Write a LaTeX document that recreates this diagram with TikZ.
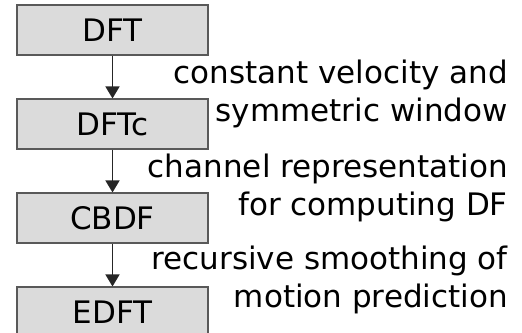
\documentclass[tikz,border=0pt]{standalone}
\usepackage{fontspec}
\setmainfont{DejaVu Sans}
\usetikzlibrary{arrows.meta}
\begin{document}
\begin{tikzpicture}[x=1pt,y=1pt,
  stagebox/.style={draw=black!65, fill=black!14, line width=1.1pt, minimum width=191pt, minimum height=50pt, inner sep=0pt, font=\fontsize{31}{37}\selectfont},
  steplabel/.style={anchor=east, align=right, inner sep=0pt, font=\fontsize{31}{37.5}\selectfont},
  flow/.style={draw=black!85, line width=1.6pt, -{Triangle[length=12pt,width=14pt]}}]
\useasboundingbox (0,0) rectangle (522,332);
\node[stagebox] (dft)  at (112.5,302) {DFT};
\node[stagebox] (dftc) at (112.5,208) {DFTc};
\node[stagebox] (cbdf) at (112.5,114) {CBDF};
\node[stagebox] (edft) at (112.5,20) {EDFT};
\draw[flow] (dft) -- (dftc);
\draw[flow] (dftc) -- (cbdf);
\draw[flow] (cbdf) -- (edft);
\node[steplabel] (l1) at (508,238) {constant velocity and\\symmetric window};
\node[steplabel] (l2) at (508,144) {channel representation\\for computing DF};
\node[steplabel] (l3) at (508,52) {recursive smoothing of\\motion prediction};
\end{tikzpicture}
\end{document}
